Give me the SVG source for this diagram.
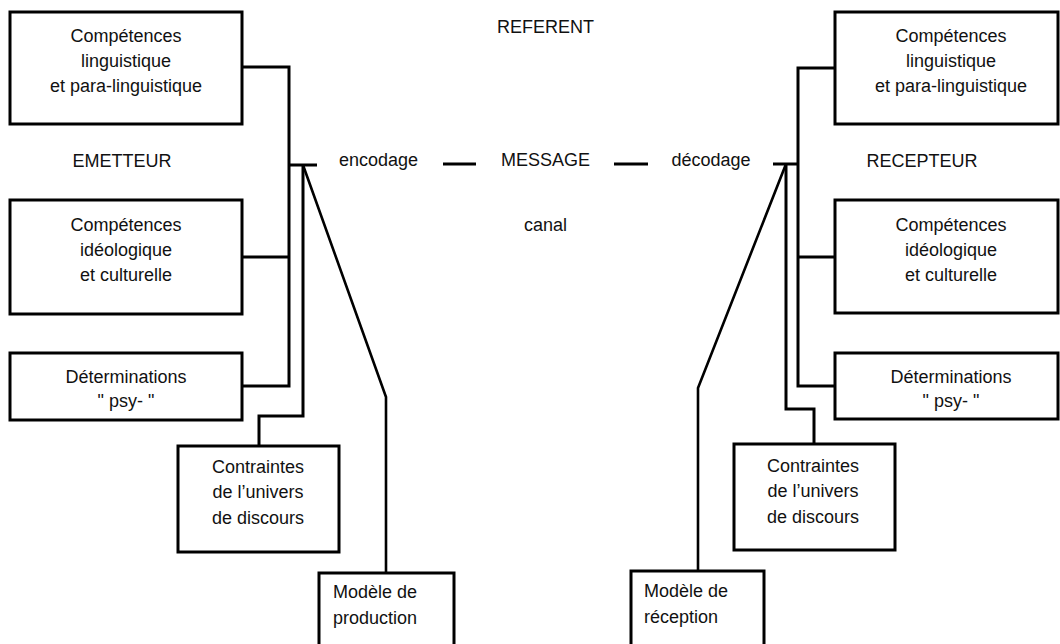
<svg xmlns="http://www.w3.org/2000/svg" width="1060" height="644" viewBox="0 0 1060 644">
<style>
.box{fill:#fff;stroke:#000;stroke-width:3}
.ln{fill:none;stroke:#000;stroke-width:3;stroke-linejoin:miter}
.dg{fill:none;stroke:#000;stroke-width:2.6}
text{font-family:"Liberation Sans",Arial,sans-serif;font-size:18px;fill:#111}
.c{text-anchor:middle}
</style>
<rect width="1060" height="644" fill="#fff"/>
<g id="connectors">
<path class="ln" d="M242,67 H289 V386 H242 M242,257 H289 M289,165 H317"/>
<path class="ln" d="M303,165 V416 H259 V446"/>
<path class="dg" d="M303,165 L386,397 V573"/>
<path class="ln" d="M836,68 H798 V386 H836 M836,257 H798 M798,164 H773"/>
<path class="ln" d="M786,164 V409 H814 V444"/>
<path class="dg" d="M786,164 L698,388 V571"/>
<path class="ln" d="M443,164 H476 M614,164 H648"/>
</g>
<g id="e-ling"><rect class="box" x="10" y="12" width="232" height="112"/>
<text class="c" x="126" y="42">Compétences</text><text class="c" x="126" y="67">linguistique</text><text class="c" x="126" y="92">et para-linguistique</text></g>
<g id="e-ideo"><rect class="box" x="10" y="200" width="232" height="114"/>
<text class="c" x="126" y="231">Compétences</text><text class="c" x="126" y="256">idéologique</text><text class="c" x="126" y="281">et culturelle</text></g>
<g id="e-psy"><rect class="box" x="10" y="353" width="232" height="67"/>
<text class="c" x="126" y="383">Déterminations</text><text class="c" x="126" y="407">" psy- "</text></g>
<g id="e-contr"><rect class="box" x="178" y="446" width="161" height="106"/>
<text class="c" x="258" y="473">Contraintes</text><text class="c" x="258" y="498">de l’univers</text><text class="c" x="258" y="524">de discours</text></g>
<g id="e-prod"><rect class="box" x="319" y="573" width="135" height="80"/>
<text x="333" y="598">Modèle de</text><text x="333" y="624">production</text></g>
<g id="r-ling"><rect class="box" x="835" y="12" width="223" height="112"/>
<text class="c" x="951" y="42">Compétences</text><text class="c" x="951" y="67">linguistique</text><text class="c" x="951" y="92">et para-linguistique</text></g>
<g id="r-ideo"><rect class="box" x="835" y="200" width="223" height="113"/>
<text class="c" x="951" y="231">Compétences</text><text class="c" x="951" y="256">idéologique</text><text class="c" x="951" y="281">et culturelle</text></g>
<g id="r-psy"><rect class="box" x="835" y="353" width="223" height="66"/>
<text class="c" x="951" y="383">Déterminations</text><text class="c" x="951" y="407">" psy- "</text></g>
<g id="r-contr"><rect class="box" x="734" y="444" width="161" height="106"/>
<text class="c" x="813" y="472">Contraintes</text><text class="c" x="813" y="497">de l’univers</text><text class="c" x="813" y="523">de discours</text></g>
<g id="r-recep"><rect class="box" x="631" y="571" width="133" height="82"/>
<text x="644" y="597">Modèle de</text><text x="644" y="623">réception</text></g>
<g id="labels">
<text class="c" x="545.5" y="33">REFERENT</text>
<text class="c" x="545.5" y="166">MESSAGE</text>
<text class="c" x="545.5" y="231">canal</text>
<text class="c" x="378.5" y="166">encodage</text>
<text class="c" x="711" y="166">décodage</text>
<text class="c" x="122" y="167">EMETTEUR</text>
<text class="c" x="922" y="167">RECEPTEUR</text>
</g>
</svg>
